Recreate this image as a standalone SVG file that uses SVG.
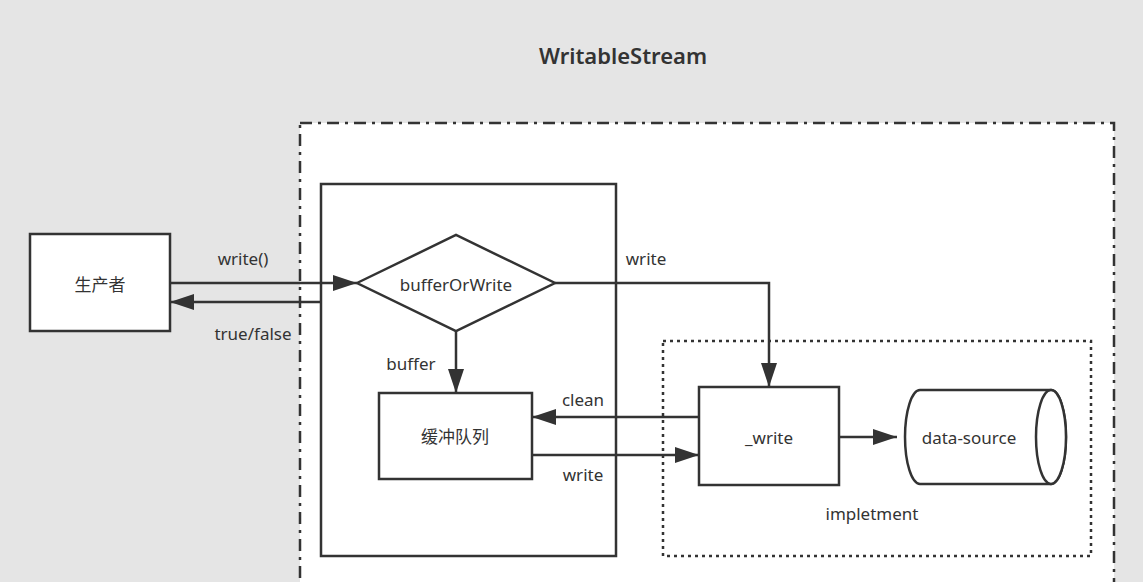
<svg xmlns="http://www.w3.org/2000/svg" width="1143" height="582" viewBox="0 0 1143 582">
<defs>
<style>
.box{fill:#fff;stroke:#333;stroke-width:2.5}
.ln{fill:none;stroke:#333;stroke-width:2.5}
.t{font-family:"Noto Sans","Noto Sans CJK SC",sans-serif;font-size:17px;fill:#333}
.m{text-anchor:middle}
</style>
<marker id="ahb" viewBox="0 0 24 16" refX="24" refY="8" markerWidth="24" markerHeight="16" markerUnits="userSpaceOnUse" orient="auto">
<path d="M0,0 L24,8 L0,16 Z" fill="#333"/>
</marker>
</defs>
<rect width="1143" height="582" fill="#e5e5e5"/>
<text class="t m" x="623" y="64" style="font-size:22px;font-weight:600">WritableStream</text>
<g id="writablestream">
<rect x="300" y="123" width="814" height="480" fill="#fff" stroke="#333" stroke-width="2.5" stroke-dasharray="12 6 3 6"/>
</g>
<g id="stream-inner">
<rect class="box" x="321" y="184" width="295" height="372"/>
</g>
<g id="impletment">
<rect x="663" y="341" width="428" height="215" fill="none" stroke="#333" stroke-width="2.5" stroke-dasharray="3 4"/>
<text class="t m" x="872" y="520">impletment</text>
</g>
<g id="producer">
<rect class="box" x="30" y="234" width="140" height="97"/>
<text class="t m" x="100" y="291">生产者</text>
</g>
<g id="bufferOrWrite">
<polygon class="box" points="357,283 456,235 555,283 456,331"/>
<text class="t m" x="456" y="291">bufferOrWrite</text>
</g>
<g id="buffer-queue">
<rect class="box" x="379" y="393" width="153" height="86"/>
<text class="t m" x="455" y="443">缓冲队列</text>
</g>
<g id="write-node">
<rect class="box" x="699" y="387" width="140" height="98"/>
<text class="t m" x="769" y="444">_write</text>
</g>
<g id="data-source">
<path class="box" d="M920,390 L1051,390 A15,47 0 0 1 1051,484 L920,484 A15,47 0 0 1 920,390 Z"/>
<ellipse class="box" cx="1051" cy="437" rx="15" ry="47"/>
<text class="t m" x="969" y="444">data-source</text>
</g>
<g id="connectors">
<line class="ln" x1="170" y1="283" x2="357" y2="283" marker-end="url(#ahb)"/>
<line class="ln" x1="321" y1="302" x2="170" y2="302" marker-end="url(#ahb)"/>
<polyline class="ln" points="555,283 769,283 769,387" marker-end="url(#ahb)"/>
<line class="ln" x1="456" y1="331" x2="456" y2="393" marker-end="url(#ahb)"/>
<line class="ln" x1="699" y1="417" x2="532" y2="417" marker-end="url(#ahb)"/>
<line class="ln" x1="532" y1="455" x2="699" y2="455" marker-end="url(#ahb)"/>
<line class="ln" x1="839" y1="437" x2="897" y2="437" marker-end="url(#ahb)"/>
<text class="t m" x="243" y="265">write()</text>
<text class="t m" x="253" y="340">true/false</text>
<text class="t m" x="646" y="265">write</text>
<text class="t m" x="411" y="370">buffer</text>
<text class="t m" x="583" y="406">clean</text>
<text class="t m" x="583" y="481">write</text>
</g>
</svg>
